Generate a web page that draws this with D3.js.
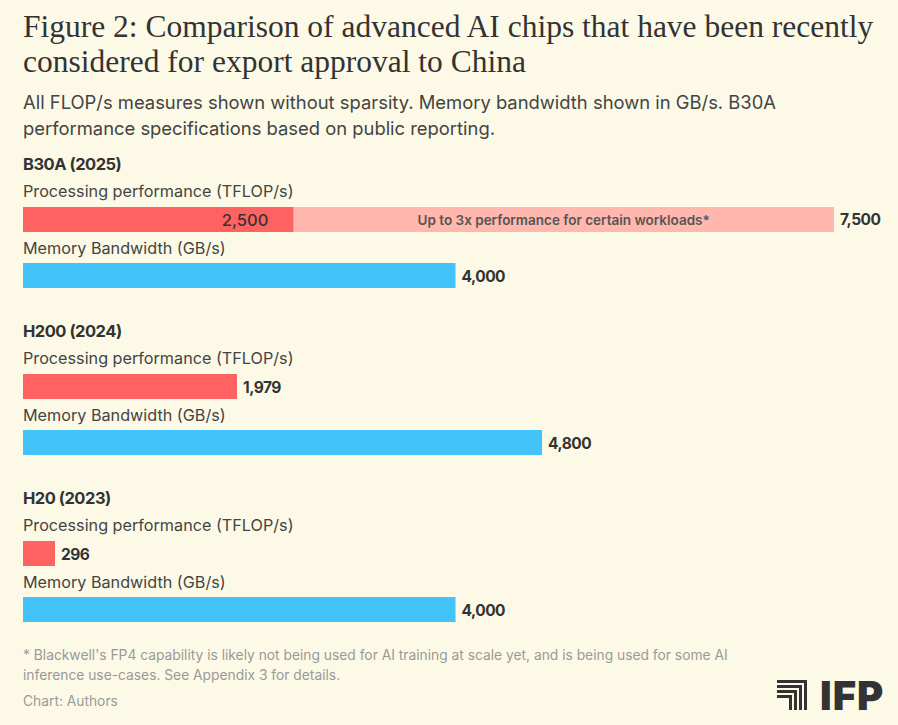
<!DOCTYPE html>
<html>
<head>
<meta charset="utf-8">
<script src="https://cdn.jsdelivr.net/npm/d3@7"></script>
<style>
  body { margin: 0; background: #fcfae6; }
  svg { display: block; }
</style>
</head>
<body>
<div id="chart"></div>
<script>
const chips = ['B30A (2025)', 'H200 (2024)', 'H20 (2023)'];
const processing = [2500, 1979, 296];
const processingMax = [7500, null, null];
const memory = [4000, 4800, 4000];
const metricLabels = ['Processing performance (TFLOP/s)', 'Memory Bandwidth (GB/s)'];
const annotation = 'Up to 3x performance for certain workloads*';

const width = 898;
const height = 725;
const sans = 'Inter, Roboto, sans-serif';

const svg = d3.select('#chart').append('svg')
  .attr('width', width)
  .attr('height', height);

svg.append('rect')
  .attr('width', width)
  .attr('height', height)
  .attr('fill', '#fcfae6');

// title + subtitle
const title = svg.append('text')
  .attr('font-family', 'Liberation Serif, serif')
  .attr('font-size', 31.5)
  .attr('fill', '#333');
title.append('tspan').attr('x', 23).attr('y', 37)
  .text('Figure 2: Comparison of advanced AI chips that have been recently');
title.append('tspan').attr('x', 23).attr('y', 72)
  .text('considered for export approval to China');

const sub = svg.append('text')
  .attr('font-family', sans)
  .attr('font-size', 18.4)
  .attr('fill', '#444');
sub.append('tspan').attr('x', 23).attr('y', 109)
  .text('All FLOP/s measures shown without sparsity. Memory bandwidth shown in GB/s. B30A');
sub.append('tspan').attr('x', 23).attr('y', 135)
  .text('performance specifications based on public reporting.');

const x = d3.scaleLinear().domain([0, 7500]).range([23, 834]);
const fmt = d3.format(',');
const barH = 25;

chips.forEach((chip, i) => {
  const top = 170 + i * 167;
  const g = svg.append('g');

  g.append('text')
    .attr('x', 23).attr('y', top)
    .attr('font-family', sans)
    .attr('font-size', 16.5)
    .attr('font-weight', 700)
    .attr('letter-spacing', -0.5)
    .attr('fill', '#333')
    .text(chip);

  g.append('text')
    .attr('x', 23).attr('y', top + 27)
    .attr('font-family', sans)
    .attr('font-size', 16.2)
    .attr('fill', '#444')
    .text(metricLabels[0]);

  const py = top + 37;
  if (processingMax[i]) {
    g.append('rect')
      .attr('x', x(0)).attr('y', py)
      .attr('width', x(processingMax[i]) - x(0))
      .attr('height', barH)
      .attr('fill', '#ffb7ae');
    g.append('text')
      .attr('x', (x(processing[i]) + x(processingMax[i])) / 2)
      .attr('y', py + 18)
      .attr('text-anchor', 'middle')
      .attr('font-family', sans)
      .attr('font-size', 13.5)
      .attr('font-weight', 600)
      .attr('fill', '#555')
      .text(annotation);
    g.append('text')
      .attr('x', x(processingMax[i]) + 6).attr('y', py + 18)
      .attr('font-family', sans)
      .attr('font-size', 15.5)
      .attr('font-weight', 700)
      .attr('letter-spacing', -0.5)
      .attr('fill', '#333')
      .text(fmt(processingMax[i]));
  }
  g.append('rect')
    .attr('x', x(0)).attr('y', py)
    .attr('width', x(processing[i]) - x(0))
    .attr('height', barH)
    .attr('fill', '#ff6361');

  const inside = !!processingMax[i];
  g.append('text')
    .attr('x', inside ? x(processing[i]) - 25 : x(processing[i]) + 6)
    .attr('y', py + 19)
    .attr('text-anchor', inside ? 'end' : 'start')
    .attr('font-family', sans)
    .attr('font-size', inside ? 16.5 : 15.5)
    .attr('font-weight', inside ? 500 : 700)
    .attr('letter-spacing', inside ? 0 : -0.5)
    .attr('fill', '#333')
    .text(fmt(processing[i]));

  g.append('text')
    .attr('x', 23).attr('y', top + 84)
    .attr('font-family', sans)
    .attr('font-size', 16.2)
    .attr('fill', '#444')
    .text(metricLabels[1]);

  const my = top + 93;
  g.append('rect')
    .attr('x', x(0)).attr('y', my)
    .attr('width', x(memory[i]) - x(0))
    .attr('height', barH)
    .attr('fill', '#42c3fa');
  g.append('text')
    .attr('x', x(memory[i]) + 6).attr('y', my + 19)
    .attr('font-family', sans)
    .attr('font-size', 15.5)
    .attr('font-weight', 700)
    .attr('letter-spacing', -0.5)
    .attr('fill', '#333')
    .text(fmt(memory[i]));
});

// notes
const notes = svg.append('text')
  .attr('font-family', sans)
  .attr('font-size', 13.8)
  .attr('fill', '#999');
notes.append('tspan').attr('x', 23).attr('y', 660)
  .text("* Blackwell's FP4 capability is likely not being used for AI training at scale yet, and is being used for some AI");
notes.append('tspan').attr('x', 23).attr('y', 680)
  .text('inference use-cases. See Appendix 3 for details.');
notes.append('tspan').attr('x', 23).attr('y', 706)
  .text('Chart: Authors');

// IFP logo
const logo = svg.append('g').attr('transform', 'translate(777,680)');
[0, 5, 10, 15].forEach((d) => {
  const s = 30 - d;
  logo.append('path')
    .attr('d', `M0,${d + 1.5} H${s - 1.5} V30`)
    .attr('fill', 'none')
    .attr('stroke', '#333')
    .attr('stroke-width', 3);
});
logo.append('text')
  .attr('x', 43).attr('y', 30)
  .attr('font-family', 'Inter, sans-serif')
  .attr('font-size', 40)
  .attr('font-weight', 900)
  .attr('letter-spacing', 1)
  .attr('fill', '#333')
  .text('IFP');
</script>
</body>
</html>
